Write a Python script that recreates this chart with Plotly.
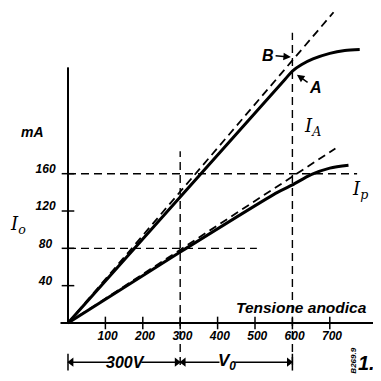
import plotly.graph_objects as go

# ---- data ----
ia_x = [0, 300, 580, 600, 625, 655, 700, 740, 780]
ia_y = [0, 135, 261, 270, 277, 283, 289, 292, 293]
ip_x = [0, 300, 560, 600, 650, 700, 750]
ip_y = [0, 76, 140, 148, 159, 166, 169]
ia_tan_x = [0, 710]
ia_tan_y = [0, 333]
ip_tan_x = [0, 715]
ip_tan_y = [0, 187]
x_ticks = [100, 200, 300, 400, 500, 600, 700]
y_ticks = [40, 80, 120, 160]
h160_x = [0, 773]; h160_y = [160, 160]
h80_x = [0, 505]; h80_y = [80, 80]
v300_x = [300, 300]; v300_y = [-45, 184]
v600_x = [600, 600]; v600_y = [-45, 311]
dim_segments = [([0, 115], "triangle-left", 0), ([196, 300], "triangle-right", 1),
                ([300, 405], "triangle-left", 0), ([447, 600], "triangle-right", 1)]
DIM_Y = -42

FONT = "Liberation Sans"
INK = "black"

fig = go.Figure()

def line(x, y, w, dash="solid", shape="linear"):
    fig.add_trace(go.Scatter(x=x, y=y, mode="lines", hoverinfo="skip",
                             line=dict(color=INK, width=w, dash=dash, shape=shape,
                                       smoothing=0.8)))

DASH = "8px,5px"
line(h160_x, h160_y, 1.4, DASH)
line(h80_x, h80_y, 1.4, DASH)
line(v300_x, v300_y, 1.4, DASH)
line(v600_x, v600_y, 1.4, DASH)
line(ia_tan_x, ia_tan_y, 1.8, DASH)
line(ip_tan_x, ip_tan_y, 1.8, DASH)
line(ia_x, ia_y, 3, shape="spline")
line(ip_x, ip_y, 3, shape="spline")

# axes lines
fig.add_shape(type="line", x0=-20, x1=837, y0=0, y1=0, line=dict(color=INK, width=2))
fig.add_shape(type="line", x0=0, x1=0, y0=0, y1=274, line=dict(color=INK, width=2))

# tick marks
fig.add_trace(go.Scatter(x=x_ticks, y=[0]*len(x_ticks), mode="markers", hoverinfo="skip",
                         marker=dict(symbol="line-ns", size=9, line=dict(color=INK, width=1.5))))
fig.add_trace(go.Scatter(x=[0]*len(y_ticks), y=y_ticks, mode="markers", hoverinfo="skip",
                         marker=dict(symbol="line-ew", size=9, line=dict(color=INK, width=1.5))))

tf = dict(family=FONT, size=12, color=INK, style="italic", weight="bold")
# tick labels
fig.add_trace(go.Scatter(x=[v + 6 for v in x_ticks], y=[-15]*len(x_ticks), mode="text",
                         text=[str(v) for v in x_ticks], textfont=tf, hoverinfo="skip"))
fig.add_trace(go.Scatter(x=[-60]*len(y_ticks), y=[v + 4 for v in y_ticks], mode="text",
                         text=[str(v) for v in y_ticks], textfont=tf, hoverinfo="skip"))

# dimension line "|<-- 300V -->|<-- V0 -->|"
ARROW_OFF = 9
for seg, sym, end in dim_segments:
    fig.add_trace(go.Scatter(x=seg, y=[DIM_Y, DIM_Y], mode="lines", hoverinfo="skip",
                             line=dict(color=INK, width=1.5)))
    tip = seg[end]
    mx = tip + ARROW_OFF if sym == "triangle-left" else tip - ARROW_OFF
    fig.add_trace(go.Scatter(x=[mx], y=[DIM_Y], mode="markers", hoverinfo="skip",
                             marker=dict(symbol=sym, size=8, color=INK)))
for bx in [0, 600]:
    fig.add_shape(type="line", x0=bx, x1=bx, y0=-33, y1=-51, line=dict(color=INK, width=1.5))

def txt(x, y, s, size=13, angle=0, weight="bold", style="italic", family=FONT):
    fig.add_annotation(x=x, y=y, text=s, showarrow=False, textangle=angle,
                       font=dict(family=family, size=size, color=INK, style=style, weight=weight))

txt(-94, 205, "mA", 14)
txt(-134, 105, "<i>I</i><sub>o</sub>", 18, family="DejaVu Serif", weight="normal")
txt(655, 210, "<i>I</i><sub>A</sub>", 18, family="DejaVu Serif", weight="normal")
txt(781, 143, "<i>I</i><sub>p</sub>", 18, family="DejaVu Serif", weight="normal")
txt(623, 17, "Tensione anodica", 15.5)
txt(155, DIM_Y, "300V", 16)
txt(425, DIM_Y, "V<sub>0</sub>", 17)
txt(763, -40, "B269.9", 8, angle=-90)
txt(797, -43, "1.", 20)

# B and A pointers
for label, hx, hy, tx, ty in [("B", 596, 285, 535, 287), ("A", 612, 266, 662, 252)]:
    fig.add_annotation(x=hx, y=hy, ax=tx, ay=ty, axref="x", ayref="y", text=label,
                       showarrow=True, arrowhead=2, arrowsize=1, arrowwidth=1.5, arrowcolor=INK,
                       font=dict(family=FONT, size=16, color=INK, style="italic", weight="bold"))

# the page body has an 8px margin: the figure is 373px and its ranges are set so
# that the axes land where the reference draws them
fig.update_layout(width=373, height=373, autosize=False, showlegend=False,
                  margin=dict(l=0, r=0, t=0, b=0),
                  paper_bgcolor="white", plot_bgcolor="white",
                  xaxis=dict(range=[-160.4, 836.9], visible=False),
                  yaxis=dict(range=[-62.2, 337.6], visible=False))

fig.write_html("out.html")
